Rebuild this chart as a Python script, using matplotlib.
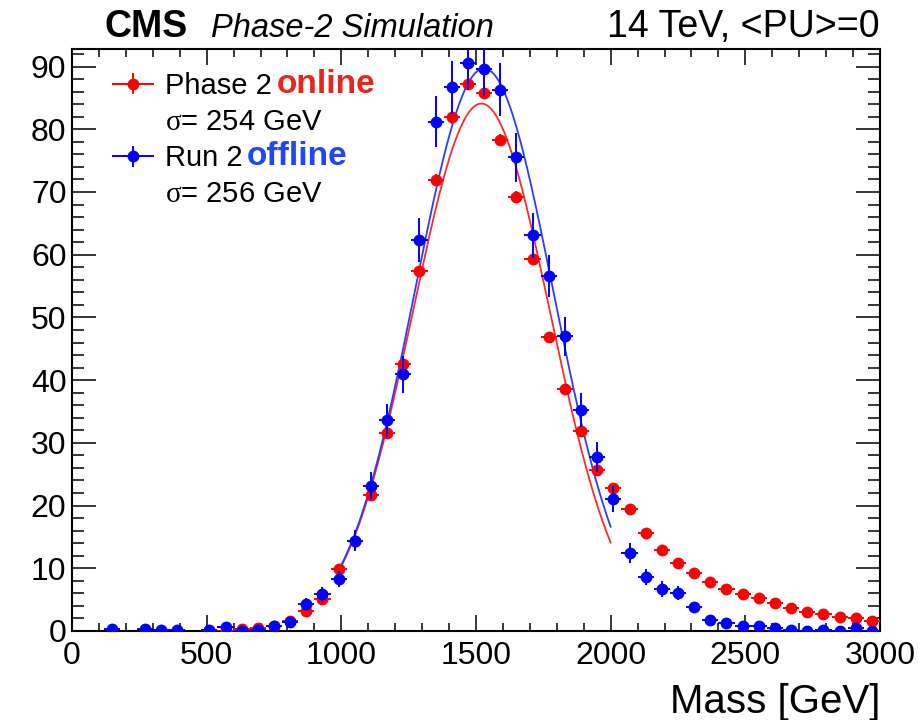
import numpy as np
import matplotlib
matplotlib.use("Agg")
import matplotlib.pyplot as plt
from matplotlib.legend_handler import HandlerErrorbar
from matplotlib.ticker import MultipleLocator

plt.rcParams["font.family"] = ["Liberation Sans", "DejaVu Sans"]
plt.rcParams["mathtext.fontset"] = "custom"
plt.rcParams["mathtext.rm"] = "Liberation Serif"

W, H = 918, 720
nan = np.nan

# 50 bins of 60 GeV between 0 and 3000 GeV
mass = np.arange(30, 3000, 60)
bin_half = 30

# Phase 2 online (red)
online = [nan, nan, nan, nan, nan, nan, nan, nan, nan,
          0.05, 0.3, 0.4, 0.8, 1.6, 3.2, 5.05, 9.9, 14.4, 21.7, 31.5,
          42.5, 57.4, 71.9, 81.9, 87.2, 85.8, 78.3, 69.2, 59.3, 46.9,
          38.6, 31.9, 25.6, 22.8, 19.4, 15.7, 12.9, 10.9, 9.2, 7.8,
          6.7, 5.9, 5.2, 4.4, 3.6, 3.0, 2.7, 2.2, 2.1, 1.6]
online_err = [nan, nan, nan, nan, nan, nan, nan, nan, nan,
              0.05, 0.1, 0.1, 0.15, 0.2, 0.25, 0.3, 0.35, 0.4, 0.5, 0.6,
              0.7, 0.8, 0.9, 1.0, 1.0, 1.0, 1.0, 0.9, 0.85, 0.75,
              0.7, 0.6, 0.55, 0.5, 0.5, 0.45, 0.4, 0.35, 0.35, 0.3,
              0.3, 0.3, 0.25, 0.25, 0.2, 0.2, 0.2, 0.15, 0.15, 0.15]

# Run 2 offline (blue)
offline = [nan, nan, 0.25, nan, 0.3, 0.1, 0.1, nan, 0.1,
           0.6, 0.05, 0.15, 0.85, 1.5, 4.3, 5.9, 8.3, 14.4, 23.2, 33.6,
           40.9, 62.4, 81.2, 86.7, 90.6, 89.6, 86.3, 75.5, 63.1, 56.6,
           47.0, 35.2, 27.7, 21.1, 12.4, 8.6, 6.7, 6.0, 3.8, 1.7,
           1.2, 0.85, 0.8, 0.4, 0.2, 0.05, 0.2, 0.05, 0.4, 0.05]
offline_err = [nan, nan, 0.2, nan, 0.25, 0.15, 0.15, nan, 0.15,
               0.35, 0.1, 0.2, 0.4, 0.55, 0.9, 1.1, 1.3, 1.7, 2.2, 2.6,
               2.9, 3.5, 4.1, 4.2, 4.3, 4.3, 4.2, 3.9, 3.6, 3.4,
               3.1, 2.7, 2.4, 2.1, 1.6, 1.3, 1.2, 1.1, 0.9, 0.6,
               0.5, 0.4, 0.4, 0.3, 0.2, 0.1, 0.2, 0.1, 0.3, 0.1]

# gaussian fits (amplitude, mean, sigma) over 1000-2000 GeV
fit_range = (1000, 2000)
online_fit = (84.1, 1520, 254)
offline_fit = (89.7, 1530, 256)

red = "#ff0000"
blue = "#0000ff"


def gaus(x, amp, mean, sigma):
    return amp * np.exp(-0.5 * ((x - mean) / sigma) ** 2)


fig = plt.figure(figsize=(W / 100, H / 100), dpi=100)
ax = fig.add_axes([72 / W, 1 - 631 / H, (880 - 72) / W, (631 - 49) / H])

xf = np.linspace(fit_range[0], fit_range[1], 300)
ax.plot(xf, gaus(xf, *online_fit), color="#ff2a2a", lw=1.3, zorder=2)
ax.plot(xf, gaus(xf, *offline_fit), color="#2a3cff", lw=1.3, zorder=2)

eb_red = ax.errorbar(mass, online, yerr=online_err, xerr=bin_half, fmt="o",
                     color=red, ms=7.5, elinewidth=1.4, capsize=0, zorder=3)
eb_blue = ax.errorbar(mass, offline, yerr=offline_err, xerr=bin_half, fmt="o",
                      color=blue, ms=7.5, elinewidth=1.4, capsize=0, zorder=4)

ax.set_xlim(0, 3000)
ax.set_ylim(0, 92.8)
ax.xaxis.set_major_locator(MultipleLocator(500))
ax.xaxis.set_minor_locator(MultipleLocator(100))
ax.yaxis.set_major_locator(MultipleLocator(10))
ax.yaxis.set_minor_locator(MultipleLocator(2))
ax.tick_params(which="both", direction="in", top=True, right=True,
               width=1.1, colors="black", labelsize=23)
ax.tick_params(axis="x", which="major", length=11.5, pad=7)
ax.tick_params(axis="x", which="minor", length=5.8)
ax.tick_params(axis="y", which="major", length=17, pad=4)
ax.tick_params(axis="y", which="minor", length=8.6)
for sp in ax.spines.values():
    sp.set_linewidth(1.5)

ax.set_xlabel("Mass [GeV]", fontsize=29, va="baseline")
ax.xaxis.set_label_coords(1.0, -(712.7 - 631) / (631 - 49))
ax.xaxis.label.set_ha("right")

blank = plt.Line2D([], [], linestyle="none")
leg = ax.legend([eb_red, blank, eb_blue, blank],
                ["Phase 2", r"$\mathrm{\sigma}$= 254 GeV",
                 "Run 2", r"$\mathrm{\sigma}$= 256 GeV"],
                handler_map={type(eb_red): HandlerErrorbar(xerr_size=0.72, yerr_size=0.36)},
                loc="upper left", bbox_to_anchor=(111.7 / W, 1 - 72 / H),
                bbox_transform=fig.transFigure, frameon=False, fontsize=21,
                borderpad=0, borderaxespad=0, handlelength=1.44,
                handletextpad=0.4, labelspacing=0.28, numpoints=1)
leg.set_zorder(5)
texts = leg.get_texts()
ax.annotate("online", xy=(1, 0), xycoords=texts[0], xytext=(3, 0),
            textcoords="offset points", ha="left", va="bottom", fontsize=24,
            fontweight="bold", color="#e8261c", zorder=6)
ax.annotate("offline", xy=(1, 0), xycoords=texts[2], xytext=(3, 0),
            textcoords="offset points", ha="left", va="bottom", fontsize=24,
            fontweight="bold", color="#1f45ff", zorder=6)

fig.text(105 / W, 1 - 36.7 / H, "CMS", fontsize=27, fontweight="bold",
         ha="left", va="baseline")
fig.text(211 / W, 1 - 36.7 / H, "Phase-2 Simulation", fontsize=23.5,
         fontstyle="italic", ha="left", va="baseline")
fig.text(880 / W, 1 - 37 / H, "14 TeV, <PU>=0", fontsize=27,
         ha="right", va="baseline")

fig.savefig("out.png", dpi=100)
